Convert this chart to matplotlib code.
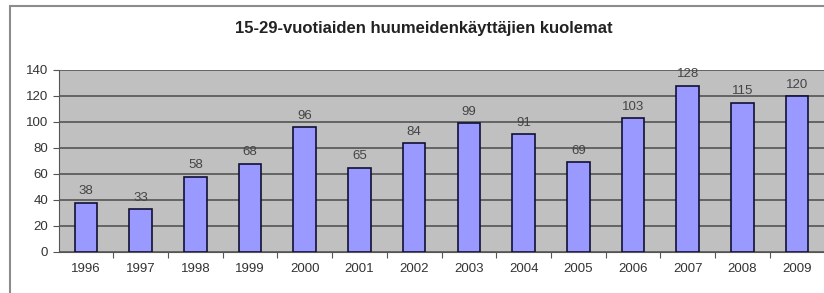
import matplotlib
matplotlib.use('Agg')
import matplotlib.pyplot as plt
from matplotlib.patches import Rectangle

years = ['1996', '1997', '1998', '1999', '2000', '2001', '2002',
         '2003', '2004', '2005', '2006', '2007', '2008', '2009']
deaths = [38, 33, 58, 68, 96, 65, 84, 99, 91, 69, 103, 128, 115, 120]
title = '15-29-vuotiaiden huumeidenkäyttäjien kuolemat'

plt.rcParams['font.family'] = ['Liberation Sans', 'DejaVu Sans']

fig = plt.figure(figsize=(8.24, 2.93), dpi=100)
# outer chart frame (cut off at right and bottom like the original)
fig.patches.append(Rectangle((10 / 824, -0.1), 1.0, (293 - 6) / 293 + 0.1,
                             transform=fig.transFigure, fill=False,
                             edgecolor='#8c8c8c', lw=1.5))

ax = fig.add_axes([58.5 / 824, 41 / 293, 766 / 824, 182 / 293])
ax.set_facecolor('#c0c0c0')
x = range(len(years))
ax.bar(x, deaths, width=0.41, color='#9999ff', edgecolor='#111133', lw=1.2, zorder=3)
for i, v in enumerate(deaths):
    ax.text(i, v + 4, str(v), ha='center', va='bottom', fontsize=9.5, color='#444444')

ax.set_xlim(-0.5, len(years) - 0.5)
ax.set_ylim(0, 140)
ax.set_yticks(range(0, 141, 20))
ax.yaxis.grid(True, color='#555555', lw=1.2, zorder=1)
ax.set_xticks([i + 0.5 for i in range(len(years) - 1)])
ax.set_xticklabels([])
ax.set_xticks(list(x), minor=True)
ax.set_xticklabels(years, minor=True)
ax.tick_params(axis='x', which='major', length=4, color='#555555')
ax.tick_params(axis='x', which='minor', length=0, pad=8, labelsize=9.5, labelcolor='#333333')
ax.tick_params(axis='y', length=4, color='#555555', labelsize=9.5, labelcolor='#333333')
for side in ['top', 'right']:
    ax.spines[side].set_visible(False)
ax.spines['left'].set_color('#555555')
ax.spines['bottom'].set_color('#555555')

fig.text(424 / 824, 1 - 28 / 293, title, ha='center', va='center',
         fontsize=12, fontweight='bold', color='#222222')

fig.savefig('out.png', dpi=100)
